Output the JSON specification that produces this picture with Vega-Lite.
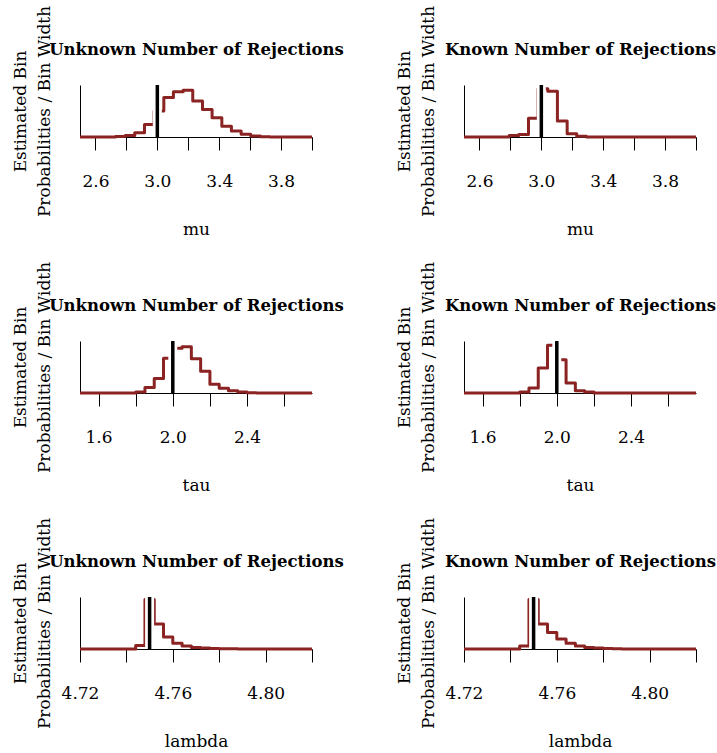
{
  "$schema": "https://vega.github.io/schema/vega-lite/v6.json",
  "background": "white",
  "padding": {"left": 10, "top": 5, "right": 0, "bottom": 0},
  "bounds": "flush",
  "columns": 2,
  "spacing": {"row": 204, "column": 152},
  "datasets": {
    "mu_unknown": [
      {"x": 2.5, "density": 0}, {"x": 2.729, "density": 0.03}, {"x": 2.792, "density": 0.09},
      {"x": 2.854, "density": 0.24}, {"x": 2.917, "density": 0.71}, {"x": 2.979, "density": 1.49},
      {"x": 3.042, "density": 2.26}, {"x": 3.104, "density": 2.58}, {"x": 3.167, "density": 2.67},
      {"x": 3.229, "density": 2.05}, {"x": 3.292, "density": 1.57}, {"x": 3.354, "density": 1.10},
      {"x": 3.417, "density": 0.62}, {"x": 3.479, "density": 0.34}, {"x": 3.542, "density": 0.15},
      {"x": 3.604, "density": 0.06}, {"x": 3.667, "density": 0.015}, {"x": 3.729, "density": 0},
      {"x": 4.0, "density": 0}
    ],
    "mu_known": [
      {"x": 2.5, "density": 0}, {"x": 2.792, "density": 0.18}, {"x": 2.854, "density": 0.30},
      {"x": 2.917, "density": 2.19}, {"x": 2.979, "density": 5.64}, {"x": 3.042, "density": 5.34},
      {"x": 3.104, "density": 1.88}, {"x": 3.167, "density": 0.39}, {"x": 3.229, "density": 0.08},
      {"x": 3.292, "density": 0}, {"x": 4.0, "density": 0}
    ],
    "tau_unknown": [
      {"x": 1.5, "density": 0}, {"x": 1.80, "density": 0.09}, {"x": 1.85, "density": 0.50},
      {"x": 1.90, "density": 1.32}, {"x": 1.95, "density": 3.16}, {"x": 2.00, "density": 4.06},
      {"x": 2.05, "density": 4.20}, {"x": 2.10, "density": 3.12}, {"x": 2.15, "density": 1.98},
      {"x": 2.20, "density": 0.80}, {"x": 2.25, "density": 0.44}, {"x": 2.30, "density": 0.21},
      {"x": 2.35, "density": 0.09}, {"x": 2.40, "density": 0.03}, {"x": 2.45, "density": 0},
      {"x": 2.75, "density": 0}
    ],
    "tau_known": [
      {"x": 1.5, "density": 0}, {"x": 1.80, "density": 0.17}, {"x": 1.85, "density": 0.78},
      {"x": 1.90, "density": 3.99}, {"x": 1.95, "density": 7.65}, {"x": 2.00, "density": 5.32},
      {"x": 2.05, "density": 1.58}, {"x": 2.10, "density": 0.37}, {"x": 2.15, "density": 0.17},
      {"x": 2.20, "density": 0}, {"x": 2.75, "density": 0}
    ],
    "lambda_unknown": [
      {"x": 4.72, "density": 0}, {"x": 4.744, "density": 8.3}, {"x": 4.748, "density": 121.0},
      {"x": 4.752, "density": 61.2}, {"x": 4.756, "density": 29.3}, {"x": 4.760, "density": 14.0},
      {"x": 4.764, "density": 7.4}, {"x": 4.768, "density": 3.8}, {"x": 4.772, "density": 2.5},
      {"x": 4.776, "density": 1.3}, {"x": 4.780, "density": 0.8}, {"x": 4.784, "density": 0.5},
      {"x": 4.788, "density": 0}, {"x": 4.82, "density": 0}
    ],
    "lambda_known": [
      {"x": 4.72, "density": 0}, {"x": 4.744, "density": 6.7}, {"x": 4.748, "density": 106.4},
      {"x": 4.752, "density": 53.8}, {"x": 4.756, "density": 35.8}, {"x": 4.760, "density": 21.3},
      {"x": 4.764, "density": 12.3}, {"x": 4.768, "density": 6.5}, {"x": 4.772, "density": 3.4},
      {"x": 4.776, "density": 2.2}, {"x": 4.780, "density": 1.1}, {"x": 4.784, "density": 0.6},
      {"x": 4.788, "density": 0}, {"x": 4.82, "density": 0}
    ],
    "truth": [
      {"param": "mu", "value": 3.0},
      {"param": "tau", "value": 2.0},
      {"param": "lambda", "value": 4.75}
    ]
  },
  "concat": [
    {
      "width": 232, "height": 52,
      "resolve": {"axis": {"x": "independent"}},
      "layer": [
        {
          "data": {"name": "mu_unknown"},
          "mark": {"type": "line", "interpolate": "step-after", "stroke": "#8B2323", "strokeWidth": 3, "strokeJoin": "round"},
          "encoding": {
            "x": {"field": "x", "type": "quantitative", "scale": {"domain": [2.5, 4.0], "nice": false, "zero": false},
                  "axis": {"values": [2.6, 2.8, 3.0, 3.2, 3.4, 3.6, 3.8, 4.0], "labelExpr": "indexof([2.6, 3.0, 3.4, 3.8], datum.value) >= 0 ? format(datum.value, '.1f') : ''", "title": "mu"}},
            "y": {"field": "density", "type": "quantitative", "scale": {"domain": [0, 2.97], "nice": false},
                  "axis": {"title": ["Estimated Bin", "Probabilities / Bin Width"]}}
          }
        },
        {
          "data": {"name": "truth"}, "transform": [{"filter": "datum.param == 'mu'"}],
          "mark": {"type": "rule", "stroke": "white", "strokeWidth": 9},
          "encoding": {
            "x": {"field": "value", "type": "quantitative", "scale": {"domain": [2.5, 4.0], "nice": false, "zero": false},
                  "axis": {"orient": "top", "title": "Unknown Number of Rejections", "domain": false, "ticks": false, "labels": false, "titleY": -31, "titleBaseline": "alphabetic", "titleFontWeight": "bold", "titleFontSize": 16.5}}
          }
        },
        {
          "data": {"name": "truth"}, "transform": [{"filter": "datum.param == 'mu'"}],
          "mark": {"type": "rule", "stroke": "black", "strokeWidth": 3.5},
          "encoding": {
            "x": {"field": "value", "type": "quantitative", "scale": {"domain": [2.5, 4.0], "nice": false, "zero": false}, "axis": null}
          }
        }
      ]
    },
    {
      "width": 232, "height": 52,
      "resolve": {"axis": {"x": "independent"}},
      "layer": [
        {
          "data": {"name": "mu_known"},
          "mark": {"type": "line", "interpolate": "step-after", "stroke": "#8B2323", "strokeWidth": 3, "strokeJoin": "round"},
          "encoding": {
            "x": {"field": "x", "type": "quantitative", "scale": {"domain": [2.5, 4.0], "nice": false, "zero": false},
                  "axis": {"values": [2.6, 2.8, 3.0, 3.2, 3.4, 3.6, 3.8, 4.0], "labelExpr": "indexof([2.6, 3.0, 3.4, 3.8], datum.value) >= 0 ? format(datum.value, '.1f') : ''", "title": "mu"}},
            "y": {"field": "density", "type": "quantitative", "scale": {"domain": [0, 6.07], "nice": false},
                  "axis": {"title": ["Estimated Bin", "Probabilities / Bin Width"]}}
          }
        },
        {
          "data": {"name": "truth"}, "transform": [{"filter": "datum.param == 'mu'"}],
          "mark": {"type": "rule", "stroke": "white", "strokeWidth": 9},
          "encoding": {
            "x": {"field": "value", "type": "quantitative", "scale": {"domain": [2.5, 4.0], "nice": false, "zero": false},
                  "axis": {"orient": "top", "title": "Known Number of Rejections", "domain": false, "ticks": false, "labels": false, "titleY": -31, "titleBaseline": "alphabetic", "titleFontWeight": "bold", "titleFontSize": 16.5}}
          }
        },
        {
          "data": {"name": "truth"}, "transform": [{"filter": "datum.param == 'mu'"}],
          "mark": {"type": "rule", "stroke": "black", "strokeWidth": 3.5},
          "encoding": {
            "x": {"field": "value", "type": "quantitative", "scale": {"domain": [2.5, 4.0], "nice": false, "zero": false}, "axis": null}
          }
        }
      ]
    },
    {
      "width": 232, "height": 52,
      "resolve": {"axis": {"x": "independent"}},
      "layer": [
        {
          "data": {"name": "tau_unknown"},
          "mark": {"type": "line", "interpolate": "step-after", "stroke": "#8B2323", "strokeWidth": 3, "strokeJoin": "round"},
          "encoding": {
            "x": {"field": "x", "type": "quantitative", "scale": {"domain": [1.5, 2.75], "nice": false, "zero": false},
                  "axis": {"values": [1.6, 1.8, 2.0, 2.2, 2.4, 2.6], "labelExpr": "indexof([1.6, 2.0, 2.4], datum.value) >= 0 ? format(datum.value, '.1f') : ''", "title": "tau"}},
            "y": {"field": "density", "type": "quantitative", "scale": {"domain": [0, 4.72], "nice": false},
                  "axis": {"title": ["Estimated Bin", "Probabilities / Bin Width"]}}
          }
        },
        {
          "data": {"name": "truth"}, "transform": [{"filter": "datum.param == 'tau'"}],
          "mark": {"type": "rule", "stroke": "white", "strokeWidth": 9},
          "encoding": {
            "x": {"field": "value", "type": "quantitative", "scale": {"domain": [1.5, 2.75], "nice": false, "zero": false},
                  "axis": {"orient": "top", "title": "Unknown Number of Rejections", "domain": false, "ticks": false, "labels": false, "titleY": -31, "titleBaseline": "alphabetic", "titleFontWeight": "bold", "titleFontSize": 16.5}}
          }
        },
        {
          "data": {"name": "truth"}, "transform": [{"filter": "datum.param == 'tau'"}],
          "mark": {"type": "rule", "stroke": "black", "strokeWidth": 3.5},
          "encoding": {
            "x": {"field": "value", "type": "quantitative", "scale": {"domain": [1.5, 2.75], "nice": false, "zero": false}, "axis": null}
          }
        }
      ]
    },
    {
      "width": 232, "height": 52,
      "resolve": {"axis": {"x": "independent"}},
      "layer": [
        {
          "data": {"name": "tau_known"},
          "mark": {"type": "line", "interpolate": "step-after", "stroke": "#8B2323", "strokeWidth": 3, "strokeJoin": "round"},
          "encoding": {
            "x": {"field": "x", "type": "quantitative", "scale": {"domain": [1.5, 2.75], "nice": false, "zero": false},
                  "axis": {"values": [1.6, 1.8, 2.0, 2.2, 2.4, 2.6], "labelExpr": "indexof([1.6, 2.0, 2.4], datum.value) >= 0 ? format(datum.value, '.1f') : ''", "title": "tau"}},
            "y": {"field": "density", "type": "quantitative", "scale": {"domain": [0, 8.31], "nice": false},
                  "axis": {"title": ["Estimated Bin", "Probabilities / Bin Width"]}}
          }
        },
        {
          "data": {"name": "truth"}, "transform": [{"filter": "datum.param == 'tau'"}],
          "mark": {"type": "rule", "stroke": "white", "strokeWidth": 9},
          "encoding": {
            "x": {"field": "value", "type": "quantitative", "scale": {"domain": [1.5, 2.75], "nice": false, "zero": false},
                  "axis": {"orient": "top", "title": "Known Number of Rejections", "domain": false, "ticks": false, "labels": false, "titleY": -31, "titleBaseline": "alphabetic", "titleFontWeight": "bold", "titleFontSize": 16.5}}
          }
        },
        {
          "data": {"name": "truth"}, "transform": [{"filter": "datum.param == 'tau'"}],
          "mark": {"type": "rule", "stroke": "black", "strokeWidth": 3.5},
          "encoding": {
            "x": {"field": "value", "type": "quantitative", "scale": {"domain": [1.5, 2.75], "nice": false, "zero": false}, "axis": null}
          }
        }
      ]
    },
    {
      "width": 232, "height": 52,
      "resolve": {"axis": {"x": "independent"}},
      "layer": [
        {
          "data": {"name": "lambda_unknown"},
          "mark": {"type": "line", "interpolate": "step-after", "stroke": "#8B2323", "strokeWidth": 3, "strokeJoin": "round"},
          "encoding": {
            "x": {"field": "x", "type": "quantitative", "scale": {"domain": [4.72, 4.82], "nice": false, "zero": false},
                  "axis": {"values": [4.72, 4.74, 4.76, 4.78, 4.80, 4.82], "labelExpr": "indexof([4.72, 4.76, 4.80], datum.value) >= 0 ? format(datum.value, '.2f') : ''", "title": "lambda"}},
            "y": {"field": "density", "type": "quantitative", "scale": {"domain": [0, 127.4], "nice": false},
                  "axis": {"title": ["Estimated Bin", "Probabilities / Bin Width"]}}
          }
        },
        {
          "data": {"name": "truth"}, "transform": [{"filter": "datum.param == 'lambda'"}],
          "mark": {"type": "rule", "stroke": "white", "strokeWidth": 9},
          "encoding": {
            "x": {"field": "value", "type": "quantitative", "scale": {"domain": [4.72, 4.82], "nice": false, "zero": false},
                  "axis": {"orient": "top", "title": "Unknown Number of Rejections", "domain": false, "ticks": false, "labels": false, "titleY": -31, "titleBaseline": "alphabetic", "titleFontWeight": "bold", "titleFontSize": 16.5}}
          }
        },
        {
          "data": {"name": "truth"}, "transform": [{"filter": "datum.param == 'lambda'"}],
          "mark": {"type": "rule", "stroke": "black", "strokeWidth": 3.5},
          "encoding": {
            "x": {"field": "value", "type": "quantitative", "scale": {"domain": [4.72, 4.82], "nice": false, "zero": false}, "axis": null}
          }
        }
      ]
    },
    {
      "width": 232, "height": 52,
      "resolve": {"axis": {"x": "independent"}},
      "layer": [
        {
          "data": {"name": "lambda_known"},
          "mark": {"type": "line", "interpolate": "step-after", "stroke": "#8B2323", "strokeWidth": 3, "strokeJoin": "round"},
          "encoding": {
            "x": {"field": "x", "type": "quantitative", "scale": {"domain": [4.72, 4.82], "nice": false, "zero": false},
                  "axis": {"values": [4.72, 4.74, 4.76, 4.78, 4.80, 4.82], "labelExpr": "indexof([4.72, 4.76, 4.80], datum.value) >= 0 ? format(datum.value, '.2f') : ''", "title": "lambda"}},
            "y": {"field": "density", "type": "quantitative", "scale": {"domain": [0, 112], "nice": false},
                  "axis": {"title": ["Estimated Bin", "Probabilities / Bin Width"]}}
          }
        },
        {
          "data": {"name": "truth"}, "transform": [{"filter": "datum.param == 'lambda'"}],
          "mark": {"type": "rule", "stroke": "white", "strokeWidth": 9},
          "encoding": {
            "x": {"field": "value", "type": "quantitative", "scale": {"domain": [4.72, 4.82], "nice": false, "zero": false},
                  "axis": {"orient": "top", "title": "Known Number of Rejections", "domain": false, "ticks": false, "labels": false, "titleY": -31, "titleBaseline": "alphabetic", "titleFontWeight": "bold", "titleFontSize": 16.5}}
          }
        },
        {
          "data": {"name": "truth"}, "transform": [{"filter": "datum.param == 'lambda'"}],
          "mark": {"type": "rule", "stroke": "black", "strokeWidth": 3.5},
          "encoding": {
            "x": {"field": "value", "type": "quantitative", "scale": {"domain": [4.72, 4.82], "nice": false, "zero": false}, "axis": null}
          }
        }
      ]
    }
  ],
  "config": {
    "font": "DejaVu Serif",
    "view": {"stroke": null},
    "axis": {
      "labelFont": "DejaVu Serif", "labelFontSize": 17, "labelColor": "black",
      "titleFont": "DejaVu Serif", "titleFontSize": 17, "titleFontWeight": "normal", "titleColor": "black",
      "domainColor": "black", "domainWidth": 1, "tickColor": "black", "tickWidth": 1,
      "grid": false, "labelFlush": false, "labelOverlap": false
    },
    "axisX": {"tickSize": 13, "labelPadding": 36, "labelBaseline": "alphabetic", "titleY": 97, "titleBaseline": "alphabetic"},
    "axisY": {"ticks": false, "labels": false, "titleX": -55, "titleY": 26, "titleBaseline": "alphabetic", "titleAlign": "center", "titleAngle": -90, "titleLineHeight": 24}
  }
}
